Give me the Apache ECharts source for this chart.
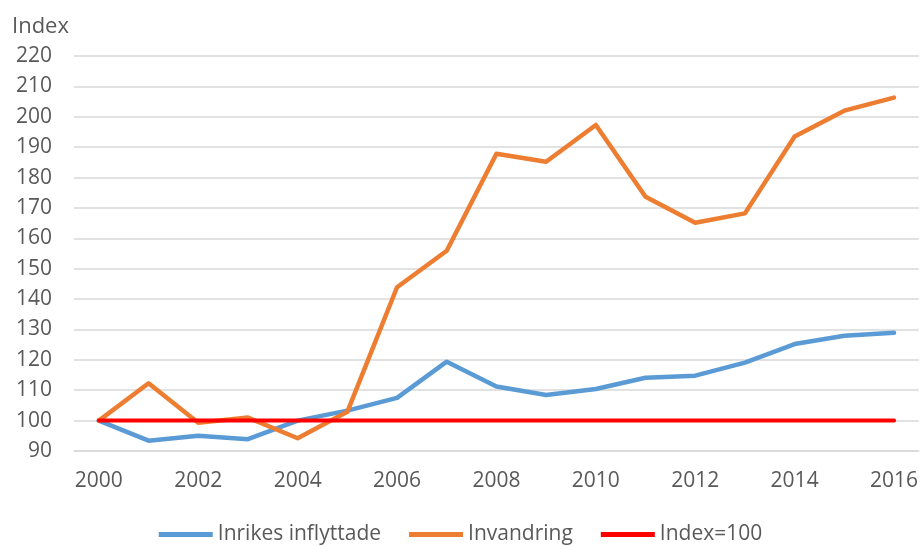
<!DOCTYPE html>
<html>
<head>
<meta charset="UTF-8">
<title>Index</title>
<script src="https://cdn.jsdelivr.net/npm/echarts@6/dist/echarts.min.js"></script>
<style>
  html, body { margin: 0; padding: 0; background: #fff; }
  #chart { width: 921px; height: 546px; }
</style>
</head>
<body>
<div id="chart"></div>
<script type="text/javascript">
var years = ['2000', '2001', '2002', '2003', '2004', '2005', '2006', '2007', '2008',
             '2009', '2010', '2011', '2012', '2013', '2014', '2015', '2016'];
var inrikes = [100, 93.4, 95.0, 93.9, 100.0, 103.3, 107.5, 119.4, 111.2,
               108.4, 110.4, 114.1, 114.8, 119.1, 125.2, 127.9, 128.9];
var invandring = [100, 112.3, 99.3, 101.0, 94.2, 102.9, 143.9, 155.9, 187.8,
                  185.2, 197.3, 173.7, 165.1, 168.2, 193.5, 202.0, 206.3];
var index100 = [100, 100, 100, 100, 100, 100, 100, 100, 100,
                100, 100, 100, 100, 100, 100, 100, 100];

var font = '"Open Sans", "Liberation Sans", sans-serif';
var textColor = '#595959';

var chart = echarts.init(document.getElementById('chart'));

// linjer, samma stil som i originalet
function lineSeries(name, data, color, width) {
  return {
    name: name,
    type: 'line',
    data: data,
    symbol: 'none',
    smooth: false,
    lineStyle: { color: color, width: width, cap: 'round', join: 'round' },
    itemStyle: { color: color },
    emphasis: { disabled: true }
  };
}

var option = {
  backgroundColor: '#ffffff',
  animation: false,
  title: {
    text: 'Index',
    left: 7,
    top: 11,
    textStyle: { color: textColor, fontFamily: font, fontSize: 22, fontWeight: 'normal' }
  },
  grid: { left: 74, right: 1, top: 56, bottom: 95, containLabel: false },
  legend: {
    top: 519,
    left: 'center',
    itemWidth: 54,
    itemHeight: 5,
    itemGap: 28,
    icon: 'rect',
    textStyle: { color: textColor, fontFamily: font, fontSize: 21 },
    data: ['Inrikes inflyttade', 'Invandring', 'Index=100']
  },
  xAxis: {
    type: 'category',
    data: years,
    boundaryGap: true,
    axisLine: { show: true, lineStyle: { color: '#d9d9d9', width: 1.5 } },
    axisTick: { show: false },
    axisLabel: { interval: 1, color: textColor, fontFamily: font, fontSize: 21, margin: 20 },
    splitLine: { show: false }
  },
  yAxis: {
    type: 'value',
    min: 90,
    max: 220,
    interval: 10,
    axisLine: { show: false },
    axisTick: { show: false },
    axisLabel: { color: textColor, fontFamily: font, fontSize: 21, margin: 22 },
    splitLine: { show: true, lineStyle: { color: '#d9d9d9', width: 1.5 } }
  },
  series: [
    lineSeries('Inrikes inflyttade', inrikes, '#5b9bd5', 4.5),
    lineSeries('Invandring', invandring, '#ed7d31', 4.5),
    lineSeries('Index=100', index100, '#ff0000', 4)
  ]
};

chart.setOption(option);
</script>
</body>
</html>
